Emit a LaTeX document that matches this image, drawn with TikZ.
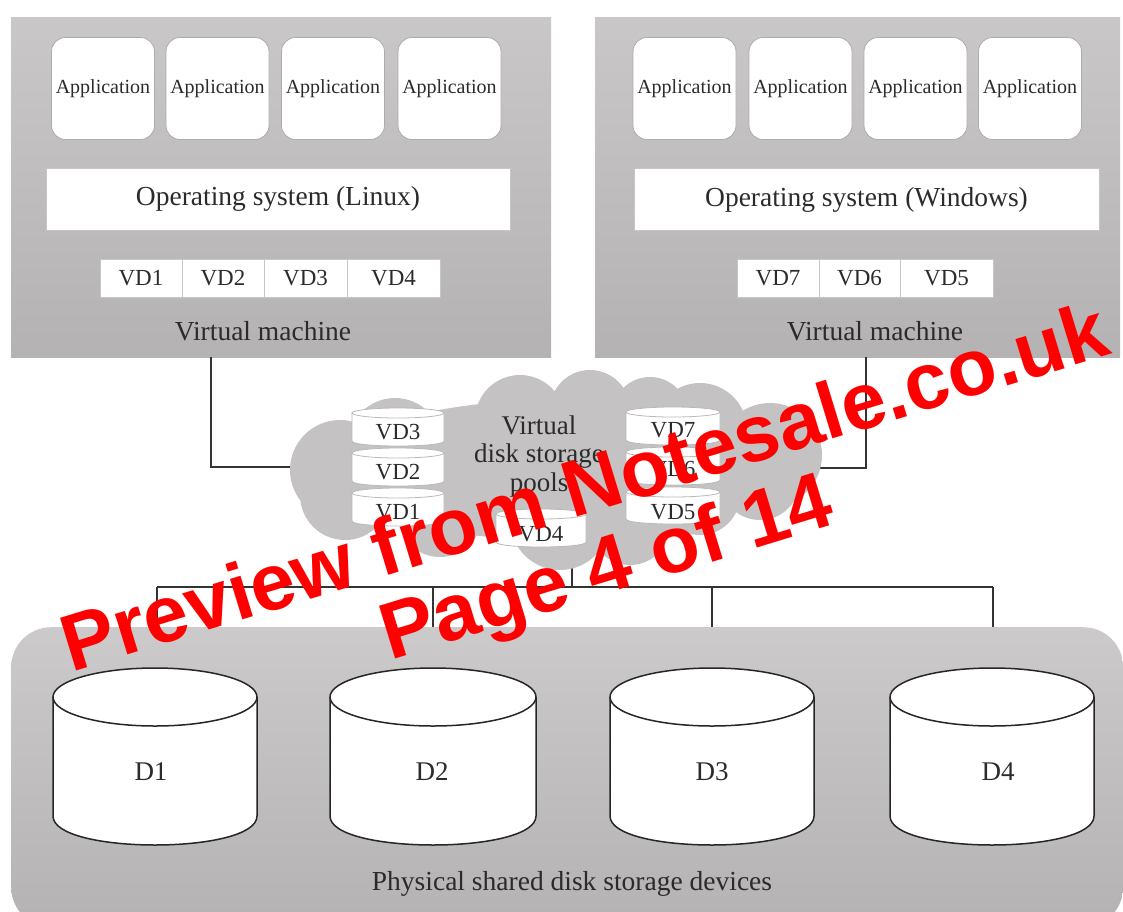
\documentclass[tikz,border=0pt]{standalone}
\usepackage{fontspec}
\setmainfont{Liberation Serif}
\newfontfamily\wmfont{Liberation Sans}
\definecolor{vmtop}{HTML}{C9C7C7}
\definecolor{vmbot}{HTML}{B4B2B2}
\definecolor{cloudc}{HTML}{C4C2C2}
\definecolor{txt}{HTML}{2B2B2B}
\definecolor{wmred}{HTML}{FF0000}
\newcommand{\drawcyl}[6]{% #1 style, #2 cx, #3 ytop, #4 ybottom, #5 rx, #6 ry
  \filldraw[#1] (#2-#5,#3) -- (#2-#5,#4) .. controls (#2-#5,#4+1.333*#6) and (#2+#5,#4+1.333*#6) .. (#2+#5,#4) -- (#2+#5,#3);
  \filldraw[#1] (#2,#3) ellipse [x radius=#5, y radius=#6];
}
\begin{document}
\begin{tikzpicture}[x=1pt,y=-1pt,
  vmbox/.style={top color=vmtop, bottom color=vmbot, draw=none, inner sep=0pt},
  appbox/.style={draw=gray!65, fill=white, rounded corners=14pt, line width=0.8pt,
    minimum width=103pt, minimum height=102pt, inner sep=0pt, text=txt,
    font=\fontsize{20}{22}\selectfont},
  osbox/.style={draw=gray!45, fill=white, line width=0.6pt, minimum height=62pt,
    inner sep=0pt, text=txt, font=\fontsize{27.5}{30}\selectfont},
  vdcell/.style={draw=gray!45, fill=white, line width=0.6pt, minimum height=38pt,
    inner sep=0pt, text=txt, font=\fontsize{23}{25}\selectfont},
  lbl/.style={text=txt, inner sep=0pt, font=\fontsize{27.5}{30}\selectfont},
  vdlbl/.style={text=txt, inner sep=0pt, font=\fontsize{23}{25}\selectfont},
  dlbl/.style={text=txt, inner sep=0pt, font=\fontsize{27}{30}\selectfont},
  scyl/.style={fill=white, draw=gray!55, line width=0.8pt},
  bcyl/.style={fill=white, draw=black!85, line width=1.5pt},
  conn/.style={draw=black!80, line width=1.4pt},
  wm/.style={text=wmred, inner sep=0pt, rotate=17, anchor=base,
    font=\wmfont\bfseries\fontsize{80}{90}\selectfont}
]
\useasboundingbox (0,0) rectangle (1123,911);
\fill[white] (0,0) rectangle (1123,911);
\clip (0,0) rectangle (1123,911);

% ---------- virtual machine boxes ----------
\node[vmbox, minimum width=540pt, minimum height=340pt, anchor=north west] (vmL) at (11,17) {};
\node[vmbox, minimum width=525pt, minimum height=340pt, anchor=north west] (vmR) at (595,17) {};

% applications (Linux)
\node[appbox] (aL1) at (103,88.5) {Application};
\node[appbox] (aL2) at (217.5,88.5) {Application};
\node[appbox] (aL3) at (333,88.5) {Application};
\node[appbox] (aL4) at (449.5,88.5) {Application};
% applications (Windows)
\node[appbox] (aR1) at (684.5,88.5) {Application};
\node[appbox] (aR2) at (800.5,88.5) {Application};
\node[appbox] (aR3) at (915.5,88.5) {Application};
\node[appbox] (aR4) at (1030,88.5) {Application};

% operating systems
\node[osbox, minimum width=464pt] (osL) at (278,199) {Operating system (Linux)};
\node[osbox, minimum width=465pt] (osR) at (866.5,199.5) {Operating system (Windows)};

% virtual disk cells
\node[vdcell, minimum width=82pt] (cL1) at (141,278) {VD1};
\node[vdcell, minimum width=82pt] (cL2) at (223,278) {VD2};
\node[vdcell, minimum width=83pt] (cL3) at (305.5,278) {VD3};
\node[vdcell, minimum width=93pt] (cL4) at (393.5,278) {VD4};
\node[vdcell, minimum width=82pt] (cR1) at (778,278) {VD7};
\node[vdcell, minimum width=81pt] (cR2) at (859.5,278) {VD6};
\node[vdcell, minimum width=93pt] (cR3) at (946.5,278) {VD5};

\node[lbl] (vmLlbl) at (263,331) {Virtual machine};
\node[lbl] (vmRlbl) at (875,331) {Virtual machine};

% ---------- bottom panel ----------
\node[vmbox, top color=vmtop!95!white, bottom color=vmbot, rounded corners=40pt,
  minimum width=1112pt, minimum height=300pt, anchor=north west] (phys) at (11,627) {};

% ---------- connectors ----------
\coordinate (lcorner) at (211,467);
\coordinate (lend) at (320,467);
\coordinate (rcorner) at (866,468);
\coordinate (rend) at (780,468);
\coordinate (cloudbot) at (572,540);
\coordinate (busL) at (157,587);
\coordinate (busR) at (993,587);
\coordinate (bus2) at (433,587);
\coordinate (bus3) at (712,587);
\draw[conn] (vmL.south -| lcorner) -- (lcorner) -- (lend);
\draw[conn] (vmR.south -| rcorner) -- (rcorner) -- (rend);
\draw[conn] (cloudbot) -- (cloudbot |- busL);
\draw[conn] (busL) -- (busR);
\draw[conn] (busL) -- (busL |- phys.north);
\draw[conn] (bus2) -- (bus2 |- phys.north);
\draw[conn] (bus3) -- (bus3 |- phys.north);
\draw[conn] (busR) -- (busR |- phys.north);

% ---------- cloud ----------
\fill[cloudc] (555,470) ellipse[x radius=225, y radius=70]
  (340,470) circle[radius=50]
  (345,495) circle[radius=45]
  (395,445) circle[radius=47]
  (440,515) circle[radius=42]
  (520,420) circle[radius=45]
  (590,410) circle[radius=40]
  (650,415) circle[radius=38]
  (700,430) circle[radius=47]
  (770,455) circle[radius=52]
  (760,480) circle[radius=40]
  (700,495) circle[radius=40]
  (560,520) circle[radius=50]
  (630,525) circle[radius=40];

% small virtual disk cylinders
\drawcyl{scyl}{398}{413}{441}{46}{5}
\node[vdlbl] (pVD3) at (398,432) {VD3};
\drawcyl{scyl}{398}{453}{481}{46}{5}
\node[vdlbl] (pVD2) at (398,472) {VD2};
\drawcyl{scyl}{398}{493}{521}{46}{5}
\node[vdlbl] (pVD1) at (398,512) {VD1};
\drawcyl{scyl}{673}{412}{440}{47}{5}
\node[vdlbl] (pVD7) at (673,430) {VD7};
\drawcyl{scyl}{673}{452}{480}{47}{5}
\node[vdlbl] (pVD6) at (673,469) {VD6};
\drawcyl{scyl}{673}{492}{519}{47}{5}
\node[vdlbl] (pVD5) at (673,512) {VD5};
\drawcyl{scyl}{541}{514}{542}{45}{5}
\node[vdlbl] (pVD4) at (541,534) {VD4};

\node[lbl, align=center, font=\fontsize{27}{28.5}\selectfont] (pool) at (539,456) {Virtual\\disk storage\\pools};

% ---------- physical disks ----------
\drawcyl{bcyl}{155}{697}{816}{102}{29}
\node[dlbl] (d1) at (151,772) {D1};
\drawcyl{bcyl}{433}{697}{816}{103}{29}
\node[dlbl] (d2) at (432,772) {D2};
\drawcyl{bcyl}{712}{697}{816}{102}{29}
\node[dlbl] (d3) at (712,772) {D3};
\drawcyl{bcyl}{992}{697}{816}{102}{29}
\node[dlbl] (d4) at (998,772) {D4};

\node[lbl] (physlbl) at (572,884) {Physical shared disk storage devices};

% ---------- watermark ----------
\node[wm] (wm1) at (592,513) {Preview from Notesale.co.uk};
\node[wm] (wm2) at (614,592) {Page 4 of 14};
\end{tikzpicture}
\end{document}
